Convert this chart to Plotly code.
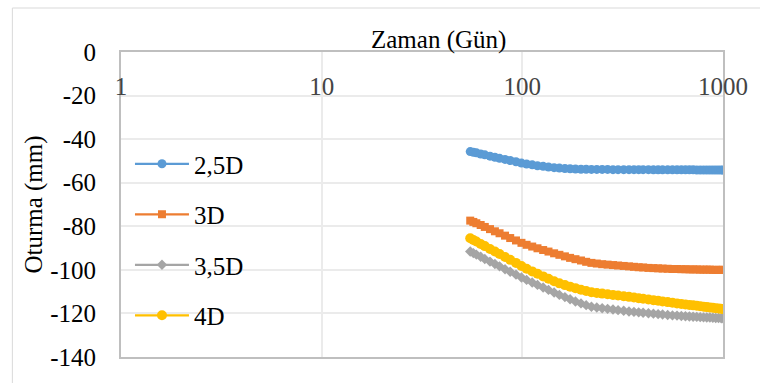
import plotly.graph_objects as go

days = [55, 57, 59, 62, 65, 69, 73, 77, 82, 87, 93, 99, 105, 112, 119, 127, 135, 144, 153, 163,
        173, 184, 196, 208, 221, 235, 250, 266, 283, 300, 320, 340, 360, 380, 400, 425, 450, 475,
        500, 530, 560, 590, 620, 650, 680, 710, 740, 770, 800, 830, 860, 890, 920, 950, 980, 1000]

s25 = [-45.7, -46.0, -46.3, -46.8, -47.2, -47.8, -48.3, -48.8, -49.3, -49.8, -50.4, -51.0, -51.4,
       -51.8, -52.2, -52.5, -52.8, -53.1, -53.3, -53.5, -53.6, -53.7, -53.8, -53.8, -53.9, -53.9,
       -53.9, -53.9, -54.0, -54.0, -54.0, -54.0, -54.0, -54.0, -54.0, -54.0, -54.1, -54.1, -54.1,
       -54.1, -54.1, -54.1, -54.1, -54.1, -54.1, -54.1, -54.2, -54.2, -54.2, -54.2, -54.2, -54.2,
       -54.2, -54.2, -54.2, -54.2]

s3 = [-77.4, -78.0, -78.6, -79.4, -80.3, -81.3, -82.3, -83.2, -84.3, -85.4, -86.5, -87.6, -88.5,
      -89.3, -90.1, -90.9, -91.6, -92.4, -93.1, -93.8, -94.5, -95.1, -95.7, -96.3, -96.8, -97.1,
      -97.4, -97.6, -97.8, -98.0, -98.2, -98.4, -98.6, -98.8, -98.9, -99.1, -99.2, -99.3, -99.4,
      -99.5, -99.6, -99.6, -99.7, -99.7, -99.8, -99.8, -99.8, -99.9, -99.9, -99.9, -99.9, -100.0,
      -100.0, -100.0, -100.0, -100.0]

s35 = [-91.6, -92.3, -93.0, -94.0, -95.0, -96.2, -97.3, -98.4, -99.7, -100.9, -102.2, -103.5,
       -104.6, -105.8, -106.9, -108.1, -109.2, -110.4, -111.5, -112.5, -113.5, -114.5, -115.4,
       -116.2, -116.9, -117.3, -117.6, -117.9, -118.2, -118.5, -118.8, -119.1, -119.3, -119.5,
       -119.7, -119.9, -120.1, -120.3, -120.5, -120.7, -120.9, -121.0, -121.2, -121.3, -121.4,
       -121.5, -121.6, -121.7, -121.8, -121.9, -121.9, -122.0, -122.1, -122.1, -122.2, -122.2]

s4 = [-85.5, -86.3, -87.0, -88.1, -89.1, -90.4, -91.6, -92.7, -94.1, -95.4, -96.8, -98.2, -99.5,
      -100.7, -101.8, -103.0, -104.1, -105.2, -106.2, -107.0, -107.7, -108.4, -109.1, -109.7,
      -110.3, -110.6, -110.9, -111.2, -111.5, -111.8, -112.1, -112.4, -112.7, -113.0, -113.3,
      -113.6, -113.9, -114.2, -114.5, -114.8, -115.1, -115.4, -115.7, -115.9, -116.1, -116.3,
      -116.5, -116.7, -116.9, -117.1, -117.3, -117.4, -117.6, -117.7, -117.9, -118.0]

series_names = ["2,5D", "3D", "3,5D", "4D"]
x_ticks = [1, 10, 100, 1000]
x_ticklabels = ["1", "10", "100", "1000"]
y_ticks = [0, -20, -40, -60, -80, -100, -120, -140]
y_ticklabels = ["0", "-20", "-40", "-60", "-80", "-100", "-120", "-140"]

colors = ["#5B9BD5", "#ED7D31", "#A5A5A5", "#FFC000"]
symbols = ["circle", "square", "diamond", "circle"]
msizes = [9, 8, 8, 10]

FONT = "Times New Roman, Liberation Serif, serif"

fig = go.Figure()
for i, (name, ys) in enumerate(zip(series_names, [s25, s3, s35, s4])):
    fig.add_trace(go.Scatter(
        x=days, y=ys, name=name, mode="lines+markers",
        line=dict(color=colors[i], width=2.25),
        marker=dict(color=colors[i], symbol=symbols[i], size=msizes[i]),
        legendgroup=name,
    ))

W, H = 760, 383
L, R, T, B = 121, 35, 52, 26
pw, ph = W - L - R, H - T - B

def px2x(px):
    return (px - L) / pw

def py2y(py):
    return (H - B - py) / ph

fig.update_layout(
    width=W, height=H,
    margin=dict(l=L, r=R, t=T, b=B),
    paper_bgcolor="white", plot_bgcolor="white",
    font=dict(family=FONT, size=25, color="#000000"),
    showlegend=True,
    legend=dict(x=px2x(130), y=py2y(141), xanchor="left", yanchor="top",
                bgcolor="rgba(0,0,0,0)", font=dict(family=FONT, size=25),
                tracegroupgap=15, itemwidth=54),
    xaxis=dict(type="log", range=[0, 3], side="top",
               tickvals=x_ticks, ticktext=x_ticklabels,
               ticklabelposition="inside", ticklabeloverflow="allow",
               showgrid=True, gridcolor="#EBEBEB", gridwidth=1.5,
               showline=True, linecolor="#BFBFBF", linewidth=2, mirror=True,
               ticks="inside", ticklen=27, tickcolor="rgba(0,0,0,0)", zeroline=False),
    yaxis=dict(range=[-140, 0], tickvals=y_ticks, ticktext=y_ticklabels,
               showgrid=True, gridcolor="#EBEBEB", gridwidth=1.5,
               showline=True, linecolor="#BFBFBF", linewidth=2, mirror=True,
               ticks="outside", ticklen=18, tickcolor="rgba(0,0,0,0)",
               zeroline=False,
               title=dict(text="Oturma (mm)", font=dict(family=FONT, size=25), standoff=0)),
    annotations=[dict(text="Zaman (Gün)", x=px2x(440), y=py2y(40), xref="paper", yref="paper",
                      xanchor="center", yanchor="middle", showarrow=False,
                      font=dict(family=FONT, size=25))],
    shapes=[dict(type="rect", xref="paper", yref="paper",
                 x0=px2x(12), x1=px2x(775), y0=py2y(395), y1=py2y(8),
                 line=dict(color="#D9D9D9", width=1), fillcolor="rgba(0,0,0,0)", layer="below")],
)

fig.write_html("out.html")
